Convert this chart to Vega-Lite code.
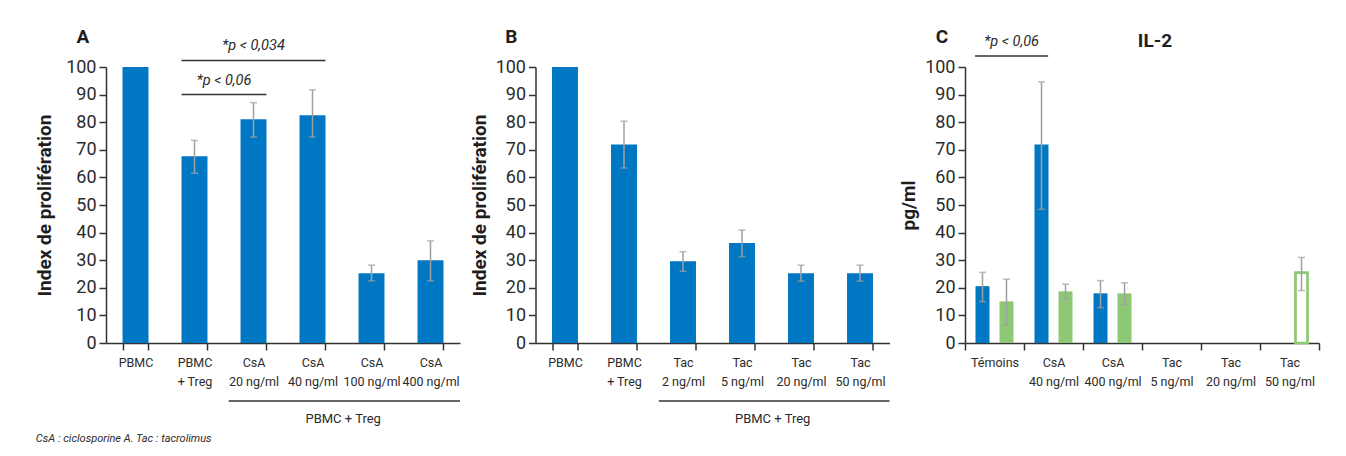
{
  "$schema": "https://vega.github.io/schema/vega-lite/v6.json",
  "background": "white",
  "padding": {"left": 35, "top": 28, "right": 5, "bottom": 5},
  "bounds": "flush",
  "spacing": 75.5,
  "config": {
    "view": {"stroke": null},
    "font": "Roboto",
    "axis": {
      "labelFont": "Roboto",
      "titleFont": "Roboto",
      "domainColor": "#333333",
      "domainWidth": 1.5,
      "tickColor": "#333333",
      "tickWidth": 1.5,
      "tickSize": 7,
      "labelColor": "#2b2b2b",
      "titleColor": "#1e1e1e",
      "grid": false
    },
    "axisY": {"labelFontSize": 18, "labelPadding": 3, "titleFontSize": 19, "titleFontWeight": "bold"},
    "text": {"font": "Roboto", "color": "#2b2b2b"}
  },
  "datasets": {
    "prolifA": [
      {"condition": "PBMC", "value": 100},
      {"condition": "PBMC + Treg", "value": 67.7, "low": 61.5, "high": 73.4},
      {"condition": "CsA 20 ng/ml", "value": 81.1, "low": 74.6, "high": 87.1},
      {"condition": "CsA 40 ng/ml", "value": 82.5, "low": 74.6, "high": 91.7},
      {"condition": "CsA 100 ng/ml", "value": 25.3, "low": 22.5, "high": 28.2},
      {"condition": "CsA 400 ng/ml", "value": 30.0, "low": 22.5, "high": 37.0}
    ],
    "prolifB": [
      {"condition": "PBMC", "value": 100},
      {"condition": "PBMC + Treg", "value": 71.9, "low": 63.4, "high": 80.4},
      {"condition": "Tac 2 ng/ml", "value": 29.6, "low": 26.0, "high": 33.1},
      {"condition": "Tac 5 ng/ml", "value": 36.2, "low": 31.3, "high": 40.9},
      {"condition": "Tac 20 ng/ml", "value": 25.3, "low": 22.4, "high": 28.2},
      {"condition": "Tac 50 ng/ml", "value": 25.3, "low": 22.4, "high": 28.2}
    ],
    "il2": [
      {"condition": "Témoins", "groupe": "1", "value": 20.6, "low": 15.0, "high": 25.6},
      {"condition": "Témoins", "groupe": "2", "value": 15.1, "low": 6.5, "high": 23.1},
      {"condition": "CsA 40 ng/ml", "groupe": "1", "value": 71.9, "low": 48.4, "high": 94.6},
      {"condition": "CsA 40 ng/ml", "groupe": "2", "value": 18.7, "low": 15.8, "high": 21.3},
      {"condition": "CsA 400 ng/ml", "groupe": "1", "value": 18.0, "low": 12.8, "high": 22.6},
      {"condition": "CsA 400 ng/ml", "groupe": "2", "value": 18.0, "low": 13.9, "high": 21.8},
      {"condition": "Tac 50 ng/ml", "groupe": "2", "value": 25.5, "low": 19.0, "high": 31.0}
    ],
    "sigA": [
      {"from": 1.28, "to": 2.72, "mid": 2.0, "level": 90, "label": "*p < 0,06"},
      {"from": 1.28, "to": 3.72, "mid": 2.5, "level": 102.4, "label": "*p < 0,034"}
    ],
    "sigC": [
      {"from": 0.17, "to": 1.41, "mid": 0.79, "level": 104, "label": "*p < 0,06"}
    ],
    "bracketA": [
      {"from": 2.08, "to": 6, "mid": 4.02, "level": -21, "label": "PBMC + Treg"}
    ],
    "bracketB": [
      {"from": 2.09, "to": 6, "mid": 4.02, "level": -21, "label": "PBMC + Treg"}
    ],
    "letterA": [{"x": -0.39, "y": 110.7, "label": "A"}],
    "letterB": [{"x": -0.41, "y": 110.7, "label": "B"}],
    "letterC": [{"x": -0.39, "y": 110.7, "label": "C"}, {"x": 3.22, "y": 109.6, "label": "IL-2"}],
    "footnote": [{"x": -1.19, "y": -34.9, "label": "CsA : ciclosporine A. Tac : tacrolimus"}]
  },
  "hconcat": [
    {
      "width": 354,
      "height": 276,
      "resolve": {"scale": {"x": "independent"}},
      "layer": [
        {
          "data": {"name": "prolifA"},
          "encoding": {
            "x": {
              "field": "condition", "type": "nominal", "sort": null,
              "scale": {"domain": ["PBMC", "PBMC + Treg", "CsA 20 ng/ml", "CsA 40 ng/ml", "CsA 100 ng/ml", "CsA 400 ng/ml"], "paddingInner": 0.56, "paddingOuter": 0.28},
              "axis": {
                "title": null, "labelAngle": 0, "tickBand": "extent", "labelFontSize": 12.5,
                "labelLineHeight": 19, "labelPadding": 6, "labelBaseline": "top",
                "labelExpr": "indexof(datum.label, ' ') > 0 ? [slice(datum.label, 0, indexof(datum.label, ' ')), slice(datum.label, indexof(datum.label, ' ') + 1)] : datum.label"
              }
            }
          },
          "layer": [
            {
              "mark": {"type": "bar", "color": "#0077c2"},
              "encoding": {
                "y": {"field": "value", "type": "quantitative", "scale": {"domain": [0, 100], "nice": false},
                  "axis": {"title": "Index de prolifération", "values": [0, 10, 20, 30, 40, 50, 60, 70, 80, 90, 100], "labelOverlap": false, "titlePadding": 11}}
              }
            },
            {
              "transform": [{"filter": "isValid(datum.low)"}],
              "mark": {"type": "rule", "color": "#a0a0a0", "strokeWidth": 1.5},
              "encoding": {
                "y": {"field": "low", "type": "quantitative", "scale": {"domain": [0, 100], "nice": false},
                  "axis": {"title": "Index de prolifération", "values": [0, 10, 20, 30, 40, 50, 60, 70, 80, 90, 100], "labelOverlap": false, "titlePadding": 11}},
                "y2": {"field": "high"}
              }
            },
            {
              "transform": [{"filter": "isValid(datum.low)"}],
              "mark": {"type": "tick", "color": "#a0a0a0", "thickness": 1.5, "size": 7},
              "encoding": {
                "y": {"field": "high", "type": "quantitative", "scale": {"domain": [0, 100], "nice": false},
                  "axis": {"title": "Index de prolifération", "values": [0, 10, 20, 30, 40, 50, 60, 70, 80, 90, 100], "labelOverlap": false, "titlePadding": 11}}
              }
            },
            {
              "transform": [{"filter": "isValid(datum.low)"}],
              "mark": {"type": "tick", "color": "#a0a0a0", "thickness": 1.5, "size": 7},
              "encoding": {
                "y": {"field": "low", "type": "quantitative", "scale": {"domain": [0, 100], "nice": false},
                  "axis": {"title": "Index de prolifération", "values": [0, 10, 20, 30, 40, 50, 60, 70, 80, 90, 100], "labelOverlap": false, "titlePadding": 11}}
              }
            }
          ]
        },
        {
          "layer": [
            {
              "data": {"name": "sigA"},
              "mark": {"type": "rule", "color": "#333333", "strokeWidth": 1.5},
              "encoding": {
                "x": {"field": "from", "type": "quantitative", "scale": {"domain": [0, 6], "nice": false, "zero": false}, "axis": null},
                "x2": {"field": "to"},
                "y": {"field": "level", "type": "quantitative", "scale": {"domain": [0, 100], "nice": false},
                  "axis": {"title": "Index de prolifération", "values": [0, 10, 20, 30, 40, 50, 60, 70, 80, 90, 100], "labelOverlap": false, "titlePadding": 11}}
              }
            },
            {
              "data": {"name": "sigA"},
              "mark": {"type": "text", "fontStyle": "italic", "fontSize": 14.5, "baseline": "middle", "dy": -14},
              "encoding": {
                "x": {"field": "mid", "type": "quantitative", "scale": {"domain": [0, 6], "nice": false, "zero": false}, "axis": null},
                "y": {"field": "level", "type": "quantitative", "scale": {"domain": [0, 100], "nice": false},
                  "axis": {"title": "Index de prolifération", "values": [0, 10, 20, 30, 40, 50, 60, 70, 80, 90, 100], "labelOverlap": false, "titlePadding": 11}},
                "text": {"field": "label"}
              }
            },
            {
              "data": {"name": "bracketA"},
              "mark": {"type": "rule", "color": "#333333", "strokeWidth": 1.5},
              "encoding": {
                "x": {"field": "from", "type": "quantitative", "scale": {"domain": [0, 6], "nice": false, "zero": false}, "axis": null},
                "x2": {"field": "to"},
                "y": {"field": "level", "type": "quantitative", "scale": {"domain": [0, 100], "nice": false},
                  "axis": {"title": "Index de prolifération", "values": [0, 10, 20, 30, 40, 50, 60, 70, 80, 90, 100], "labelOverlap": false, "titlePadding": 11}}
              }
            },
            {
              "data": {"name": "bracketA"},
              "mark": {"type": "text", "fontSize": 13, "baseline": "middle", "dy": 18},
              "encoding": {
                "x": {"field": "mid", "type": "quantitative", "scale": {"domain": [0, 6], "nice": false, "zero": false}, "axis": null},
                "y": {"field": "level", "type": "quantitative", "scale": {"domain": [0, 100], "nice": false},
                  "axis": {"title": "Index de prolifération", "values": [0, 10, 20, 30, 40, 50, 60, 70, 80, 90, 100], "labelOverlap": false, "titlePadding": 11}},
                "text": {"field": "label"}
              }
            },
            {
              "data": {"name": "letterA"},
              "mark": {"type": "text", "fontSize": 19, "fontWeight": "bold", "baseline": "middle", "color": "#1e1e1e"},
              "encoding": {
                "x": {"field": "x", "type": "quantitative", "scale": {"domain": [0, 6], "nice": false, "zero": false}, "axis": null},
                "y": {"field": "y", "type": "quantitative", "scale": {"domain": [0, 100], "nice": false},
                  "axis": {"title": "Index de prolifération", "values": [0, 10, 20, 30, 40, 50, 60, 70, 80, 90, 100], "labelOverlap": false, "titlePadding": 11}},
                "text": {"field": "label"}
              }
            },
            {
              "data": {"name": "footnote"},
              "mark": {"type": "text", "fontSize": 11, "fontStyle": "italic", "align": "left", "baseline": "middle"},
              "encoding": {
                "x": {"field": "x", "type": "quantitative", "scale": {"domain": [0, 6], "nice": false, "zero": false}, "axis": null},
                "y": {"field": "y", "type": "quantitative", "scale": {"domain": [0, 100], "nice": false},
                  "axis": {"title": "Index de prolifération", "values": [0, 10, 20, 30, 40, 50, 60, 70, 80, 90, 100], "labelOverlap": false, "titlePadding": 11}},
                "text": {"field": "label"}
              }
            }
          ]
        }
      ]
    },
    {
      "width": 354,
      "height": 276,
      "resolve": {"scale": {"x": "independent"}},
      "layer": [
        {
          "data": {"name": "prolifB"},
          "encoding": {
            "x": {
              "field": "condition", "type": "nominal", "sort": null,
              "scale": {"domain": ["PBMC", "PBMC + Treg", "Tac 2 ng/ml", "Tac 5 ng/ml", "Tac 20 ng/ml", "Tac 50 ng/ml"], "paddingInner": 0.56, "paddingOuter": 0.28},
              "axis": {
                "title": null, "labelAngle": 0, "tickBand": "extent", "labelFontSize": 12.5,
                "labelLineHeight": 19, "labelPadding": 6, "labelBaseline": "top",
                "labelExpr": "indexof(datum.label, ' ') > 0 ? [slice(datum.label, 0, indexof(datum.label, ' ')), slice(datum.label, indexof(datum.label, ' ') + 1)] : datum.label"
              }
            }
          },
          "layer": [
            {
              "mark": {"type": "bar", "color": "#0077c2"},
              "encoding": {
                "y": {"field": "value", "type": "quantitative", "scale": {"domain": [0, 100], "nice": false},
                  "axis": {"title": "Index de prolifération", "values": [0, 10, 20, 30, 40, 50, 60, 70, 80, 90, 100], "labelOverlap": false, "titlePadding": 6}}
              }
            },
            {
              "transform": [{"filter": "isValid(datum.low)"}],
              "mark": {"type": "rule", "color": "#a0a0a0", "strokeWidth": 1.5},
              "encoding": {
                "y": {"field": "low", "type": "quantitative", "scale": {"domain": [0, 100], "nice": false},
                  "axis": {"title": "Index de prolifération", "values": [0, 10, 20, 30, 40, 50, 60, 70, 80, 90, 100], "labelOverlap": false, "titlePadding": 6}},
                "y2": {"field": "high"}
              }
            },
            {
              "transform": [{"filter": "isValid(datum.low)"}],
              "mark": {"type": "tick", "color": "#a0a0a0", "thickness": 1.5, "size": 7},
              "encoding": {
                "y": {"field": "high", "type": "quantitative", "scale": {"domain": [0, 100], "nice": false},
                  "axis": {"title": "Index de prolifération", "values": [0, 10, 20, 30, 40, 50, 60, 70, 80, 90, 100], "labelOverlap": false, "titlePadding": 6}}
              }
            },
            {
              "transform": [{"filter": "isValid(datum.low)"}],
              "mark": {"type": "tick", "color": "#a0a0a0", "thickness": 1.5, "size": 7},
              "encoding": {
                "y": {"field": "low", "type": "quantitative", "scale": {"domain": [0, 100], "nice": false},
                  "axis": {"title": "Index de prolifération", "values": [0, 10, 20, 30, 40, 50, 60, 70, 80, 90, 100], "labelOverlap": false, "titlePadding": 6}}
              }
            }
          ]
        },
        {
          "layer": [
            {
              "data": {"name": "bracketB"},
              "mark": {"type": "rule", "color": "#333333", "strokeWidth": 1.5},
              "encoding": {
                "x": {"field": "from", "type": "quantitative", "scale": {"domain": [0, 6], "nice": false, "zero": false}, "axis": null},
                "x2": {"field": "to"},
                "y": {"field": "level", "type": "quantitative", "scale": {"domain": [0, 100], "nice": false},
                  "axis": {"title": "Index de prolifération", "values": [0, 10, 20, 30, 40, 50, 60, 70, 80, 90, 100], "labelOverlap": false, "titlePadding": 6}}
              }
            },
            {
              "data": {"name": "bracketB"},
              "mark": {"type": "text", "fontSize": 13, "baseline": "middle", "dy": 18},
              "encoding": {
                "x": {"field": "mid", "type": "quantitative", "scale": {"domain": [0, 6], "nice": false, "zero": false}, "axis": null},
                "y": {"field": "level", "type": "quantitative", "scale": {"domain": [0, 100], "nice": false},
                  "axis": {"title": "Index de prolifération", "values": [0, 10, 20, 30, 40, 50, 60, 70, 80, 90, 100], "labelOverlap": false, "titlePadding": 6}},
                "text": {"field": "label"}
              }
            },
            {
              "data": {"name": "letterB"},
              "mark": {"type": "text", "fontSize": 19, "fontWeight": "bold", "baseline": "middle", "color": "#1e1e1e"},
              "encoding": {
                "x": {"field": "x", "type": "quantitative", "scale": {"domain": [0, 6], "nice": false, "zero": false}, "axis": null},
                "y": {"field": "y", "type": "quantitative", "scale": {"domain": [0, 100], "nice": false},
                  "axis": {"title": "Index de prolifération", "values": [0, 10, 20, 30, 40, 50, 60, 70, 80, 90, 100], "labelOverlap": false, "titlePadding": 6}},
                "text": {"field": "label"}
              }
            }
          ]
        }
      ]
    },
    {
      "width": 354,
      "height": 276,
      "resolve": {"scale": {"x": "independent"}},
      "layer": [
        {
          "data": {"name": "il2"},
          "encoding": {
            "x": {
              "field": "condition", "type": "nominal", "sort": null,
              "scale": {"domain": ["Témoins", "CsA 40 ng/ml", "CsA 400 ng/ml", "Tac 5 ng/ml", "Tac 20 ng/ml", "Tac 50 ng/ml"], "paddingInner": 0, "paddingOuter": 0},
              "axis": {
                "title": null, "labelAngle": 0, "tickBand": "extent", "labelFontSize": 12.5,
                "labelLineHeight": 19, "labelPadding": 6, "labelBaseline": "top",
                "labelExpr": "indexof(datum.label, ' ') > 0 ? [slice(datum.label, 0, indexof(datum.label, ' ')), slice(datum.label, indexof(datum.label, ' ') + 1)] : datum.label"
              }
            },
            "xOffset": {"field": "groupe", "type": "nominal", "scale": {"domain": ["1", "2"], "paddingInner": 0.417, "paddingOuter": 0.4375}}
          },
          "layer": [
            {
              "transform": [{"filter": "datum.condition !== 'Tac 50 ng/ml'"}],
              "mark": {"type": "bar"},
              "encoding": {
                "y": {"field": "value", "type": "quantitative", "scale": {"domain": [0, 100], "nice": false},
                  "axis": {"title": "pg/ml", "values": [0, 10, 20, 30, 40, 50, 60, 70, 80, 90, 100], "labelOverlap": false, "titlePadding": 6}},
                "color": {"field": "groupe", "type": "nominal", "scale": {"domain": ["1", "2"], "range": ["#0077c2", "#8dc974"]}, "legend": null}
              }
            },
            {
              "transform": [{"filter": "datum.condition === 'Tac 50 ng/ml'"}],
              "mark": {"type": "bar", "fill": "white", "stroke": "#8dc974", "strokeWidth": 2.7, "width": 12},
              "encoding": {
                "y": {"field": "value", "type": "quantitative", "scale": {"domain": [0, 100], "nice": false},
                  "axis": {"title": "pg/ml", "values": [0, 10, 20, 30, 40, 50, 60, 70, 80, 90, 100], "labelOverlap": false, "titlePadding": 6}}
              }
            },
            {
              "mark": {"type": "rule", "color": "#a0a0a0", "strokeWidth": 1.5},
              "encoding": {
                "y": {"field": "low", "type": "quantitative", "scale": {"domain": [0, 100], "nice": false},
                  "axis": {"title": "pg/ml", "values": [0, 10, 20, 30, 40, 50, 60, 70, 80, 90, 100], "labelOverlap": false, "titlePadding": 6}},
                "y2": {"field": "high"}
              }
            },
            {
              "mark": {"type": "tick", "color": "#a0a0a0", "thickness": 1.5, "size": 7},
              "encoding": {
                "y": {"field": "high", "type": "quantitative", "scale": {"domain": [0, 100], "nice": false},
                  "axis": {"title": "pg/ml", "values": [0, 10, 20, 30, 40, 50, 60, 70, 80, 90, 100], "labelOverlap": false, "titlePadding": 6}}
              }
            },
            {
              "mark": {"type": "tick", "color": "#a0a0a0", "thickness": 1.5, "size": 7},
              "encoding": {
                "y": {"field": "low", "type": "quantitative", "scale": {"domain": [0, 100], "nice": false},
                  "axis": {"title": "pg/ml", "values": [0, 10, 20, 30, 40, 50, 60, 70, 80, 90, 100], "labelOverlap": false, "titlePadding": 6}}
              }
            }
          ]
        },
        {
          "layer": [
            {
              "data": {"name": "sigC"},
              "mark": {"type": "rule", "color": "#333333", "strokeWidth": 1.5},
              "encoding": {
                "x": {"field": "from", "type": "quantitative", "scale": {"domain": [0, 6], "nice": false, "zero": false}, "axis": null},
                "x2": {"field": "to"},
                "y": {"field": "level", "type": "quantitative", "scale": {"domain": [0, 100], "nice": false},
                  "axis": {"title": "pg/ml", "values": [0, 10, 20, 30, 40, 50, 60, 70, 80, 90, 100], "labelOverlap": false, "titlePadding": 6}}
              }
            },
            {
              "data": {"name": "sigC"},
              "mark": {"type": "text", "fontStyle": "italic", "fontSize": 14.5, "baseline": "middle", "dy": -14},
              "encoding": {
                "x": {"field": "mid", "type": "quantitative", "scale": {"domain": [0, 6], "nice": false, "zero": false}, "axis": null},
                "y": {"field": "level", "type": "quantitative", "scale": {"domain": [0, 100], "nice": false},
                  "axis": {"title": "pg/ml", "values": [0, 10, 20, 30, 40, 50, 60, 70, 80, 90, 100], "labelOverlap": false, "titlePadding": 6}},
                "text": {"field": "label"}
              }
            },
            {
              "data": {"name": "letterC"},
              "mark": {"type": "text", "fontSize": 19, "fontWeight": "bold", "baseline": "middle", "color": "#1e1e1e"},
              "encoding": {
                "x": {"field": "x", "type": "quantitative", "scale": {"domain": [0, 6], "nice": false, "zero": false}, "axis": null},
                "y": {"field": "y", "type": "quantitative", "scale": {"domain": [0, 100], "nice": false},
                  "axis": {"title": "pg/ml", "values": [0, 10, 20, 30, 40, 50, 60, 70, 80, 90, 100], "labelOverlap": false, "titlePadding": 6}},
                "text": {"field": "label"}
              }
            }
          ]
        }
      ]
    }
  ]
}
